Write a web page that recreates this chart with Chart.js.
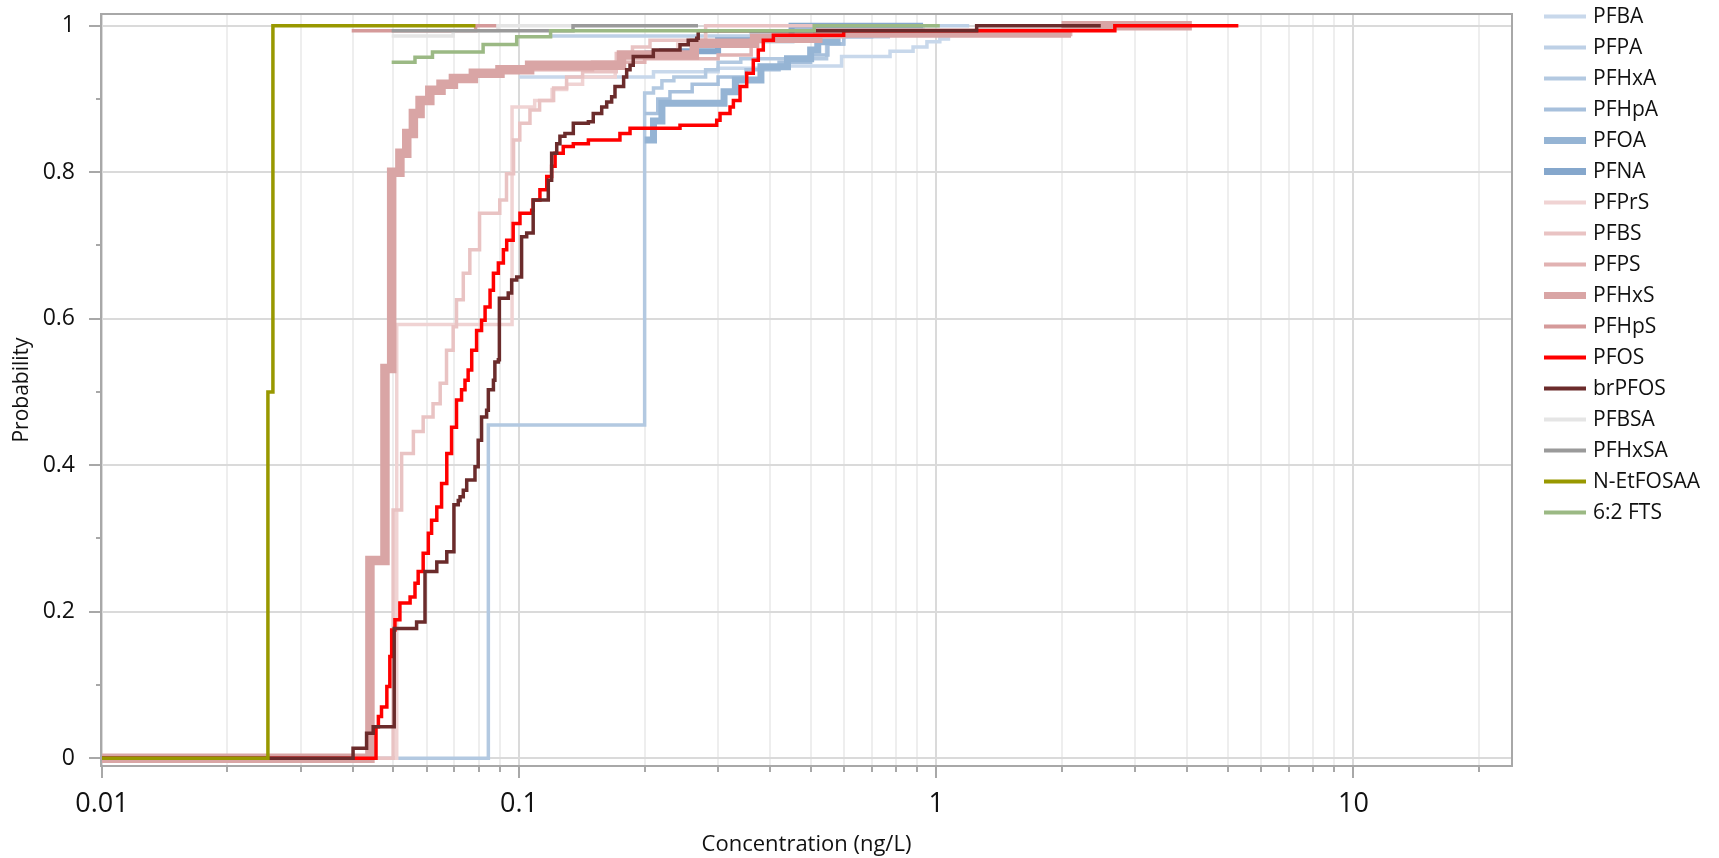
<!DOCTYPE html>
<html>
<head>
<meta charset="utf-8">
<script src="https://cdn.jsdelivr.net/npm/chart.js@4.4.1/dist/chart.umd.min.js"></script>
<style>
  html, body { margin: 0; padding: 0; background: #fff; }
</style>
</head>
<body>
<canvas id="CdfChart" width="1719" height="858"></canvas>
<script>
// series, legend order
const seriesNames = ['PFBA', 'PFPA', 'PFHxA', 'PFHpA', 'PFOA', 'PFNA', 'PFPrS', 'PFBS', 'PFPS',
  'PFHxS', 'PFHpS', 'PFOS', 'brPFOS', 'PFBSA', 'PFHxSA', 'N-EtFOSAA', '6:2 FTS'];

// [concentration (ng/L), cumulative probability]
const pfba = [[0.1, 0.93], [0.21, 0.937], [0.3, 0.942], [0.44, 0.945], [0.593, 0.958], [0.775, 0.965],
  [0.88, 0.971], [0.95, 0.978], [1.02, 0.982], [1.08, 0.982]];
const pfpa = [[0.119, 0.986], [0.36, 0.99], [0.93, 1.0], [1.2, 1.0]];
const pfhxa = [[0.01, 0], [0.0844, 0.455], [0.2, 0.908], [0.21, 0.915], [0.22, 0.925], [0.235, 0.93],
  [0.28, 0.94], [0.3, 0.95], [0.34, 0.955], [0.546, 0.975], [0.6, 0.985], [0.775, 0.985]];
const pfhpa = [[0.2, 0.88], [0.215, 0.9], [0.23, 0.91], [0.26, 0.92], [0.3, 0.93], [0.35, 0.94],
  [0.42, 0.95], [0.5, 0.96], [0.55, 0.975], [0.6, 0.985], [0.7, 0.99]];
const pfoa = [[0.2, 0.844], [0.21, 0.87], [0.22, 0.894], [0.31, 0.91], [0.33, 0.926], [0.38, 0.944],
  [0.44, 0.955], [0.5, 0.967], [0.52, 0.978], [0.59, 0.978]];
const pfna = [[0.2, 0.962], [0.22, 0.965], [0.3, 0.98], [0.45, 1.0], [0.93, 1.0]];
const pfprs = [[0.0458, 0], [0.0509, 0.592], [0.0962, 0.889], [0.109, 0.898], [0.12, 0.913], [0.13, 0.92],
  [0.142, 0.93], [0.17, 0.95], [0.2, 0.96], [0.24, 0.975], [0.28, 0.99]];
const pfbs = [[0.0458, 0], [0.0499, 0.339], [0.0523, 0.416], [0.0558, 0.446], [0.0589, 0.466], [0.0622, 0.484],
  [0.0647, 0.512], [0.067, 0.557], [0.0695, 0.589], [0.0708, 0.626], [0.0735, 0.662], [0.0762, 0.694],
  [0.0804, 0.744], [0.0899, 0.762], [0.0933, 0.798], [0.097, 0.844], [0.1004, 0.867], [0.1062, 0.885],
  [0.112, 0.898], [0.121, 0.915], [0.13, 0.93], [0.142, 0.937], [0.171, 0.962], [0.187, 0.971],
  [0.206, 0.98], [0.28, 1.0], [0.51, 1.0]];
const pfps = [[0.1, 0.94], [0.15, 0.95], [0.2, 0.955], [0.3, 0.96], [0.36, 0.98],
  [0.49, 0.985], [0.6, 0.988], [2.1, 1.0]];
const pfhxs = [[0.01, 0], [0.0439, 0.27], [0.0477, 0.532], [0.0495, 0.8], [0.0518, 0.826], [0.0538, 0.853],
  [0.0558, 0.88], [0.0579, 0.898], [0.0611, 0.912], [0.065, 0.92], [0.0696, 0.928], [0.0777, 0.935],
  [0.09, 0.94], [0.106, 0.946], [0.176, 0.96], [0.263, 0.976], [0.367, 0.983], [0.52, 0.99],
  [2.05, 1.0], [4.1, 1.0]];
const pfhps = [[0.0397, 0.993], [0.0787, 1.0], [0.0888, 1.0]];
const pfos = [[0.01, 0], [0.0454, 0.043], [0.046, 0.057], [0.0468, 0.07], [0.0482, 0.098], [0.049, 0.139],
  [0.0495, 0.175], [0.0504, 0.189], [0.0518, 0.212], [0.0548, 0.22], [0.0563, 0.239], [0.0573, 0.255],
  [0.0589, 0.28], [0.0606, 0.307], [0.0617, 0.325], [0.0635, 0.343], [0.0652, 0.375], [0.0671, 0.416],
  [0.0689, 0.452], [0.0708, 0.489], [0.0728, 0.503], [0.0742, 0.516], [0.0755, 0.53], [0.077, 0.557],
  [0.0791, 0.584], [0.0813, 0.598], [0.0829, 0.616], [0.0852, 0.639], [0.0868, 0.662], [0.0892, 0.676],
  [0.0917, 0.694], [0.0934, 0.707], [0.0968, 0.73], [0.1005, 0.744], [0.1072, 0.748], [0.1081, 0.762],
  [0.1122, 0.776], [0.1165, 0.794], [0.1197, 0.808], [0.122, 0.826], [0.1276, 0.835], [0.1349, 0.839],
  [0.1466, 0.844], [0.1745, 0.853], [0.1845, 0.86], [0.2431, 0.864], [0.2977, 0.871], [0.3032, 0.88],
  [0.3204, 0.889], [0.3264, 0.898], [0.3386, 0.917], [0.3513, 0.935], [0.3643, 0.953], [0.3745, 0.967],
  [0.385, 0.98], [0.407, 0.987], [0.6, 0.993], [2.68, 1.0], [5.3, 1.0]];
const brpfos = [[0.01, 0], [0.04, 0.0135], [0.0431, 0.034], [0.0447, 0.043], [0.0502, 0.177], [0.0568, 0.186],
  [0.0595, 0.255], [0.0635, 0.268], [0.0671, 0.282], [0.0698, 0.346], [0.0715, 0.352], [0.0722, 0.357],
  [0.0735, 0.366], [0.0749, 0.38], [0.0784, 0.398], [0.0798, 0.434], [0.0813, 0.466], [0.0836, 0.475],
  [0.0844, 0.503], [0.0868, 0.516], [0.0875, 0.541], [0.0892, 0.544], [0.0897, 0.628], [0.0942, 0.635],
  [0.096, 0.653], [0.0987, 0.657], [0.1014, 0.712], [0.1043, 0.717], [0.1081, 0.762], [0.1175, 0.789],
  [0.1197, 0.826], [0.1231, 0.839], [0.1253, 0.849], [0.1288, 0.853], [0.1349, 0.867], [0.1466, 0.869],
  [0.1506, 0.88], [0.1578, 0.889], [0.1622, 0.896], [0.1667, 0.903], [0.1698, 0.917], [0.1781, 0.93],
  [0.1811, 0.94], [0.1845, 0.946], [0.1878, 0.958], [0.2098, 0.967], [0.2431, 0.974], [0.2544, 0.98],
  [0.2666, 0.983], [0.2688, 0.993], [1.25, 1.0], [2.48, 1.0]];
const pfbsa = [[0.0495, 0.986], [0.0695, 0.993], [0.089, 1.0], [0.135, 1.0]];
const pfhxsa = [[0.0495, 0.993], [0.1347, 1.0], [0.2685, 1.0]];
const netfosaa = [[0.01, 0], [0.025, 0.5], [0.0257, 1.0], [0.0786, 1.0]];
const fts62 = [[0.0495, 0.95], [0.0563, 0.957], [0.062, 0.964], [0.082, 0.9745], [0.0987, 0.985],
  [0.119, 0.993], [0.51, 1.0], [1.02, 1.0]];

const seriesData = [pfba, pfpa, pfhxa, pfhpa, pfoa, pfna, pfprs, pfbs, pfps,
  pfhxs, pfhps, pfos, brpfos, pfbsa, pfhxsa, netfosaa, fts62];

const seriesColors = ['#c8d8eb', '#bdd0e6', '#b3c9e1', '#a7c0dc', '#95b4d4', '#85a7cc', '#f0d3d3', '#e9c3c3',
  '#e1b2b2', '#d9a5a5', '#d59a9a', '#ff0000', '#6b2b2b', '#e5e5e5', '#9a9a9a', '#989800', '#9bb984'];
const lineWidths = [3.5, 3.5, 3.5, 3.5, 7, 6, 3.5, 3.5, 3.5, 9.5, 3.5, 3.5, 3.5, 3.5, 3.5, 3.5, 3.5];
const legendWidths = [4, 4, 4, 4, 7, 7, 4, 4, 4, 7, 4, 4, 4, 4, 4, 4, 4];

// axes
const xTickValues = [0.01, 0.02, 0.03, 0.04, 0.05, 0.06, 0.07, 0.08, 0.09,
  0.1, 0.2, 0.3, 0.4, 0.5, 0.6, 0.7, 0.8, 0.9,
  1, 2, 3, 4, 5, 6, 7, 8, 9, 10, 20];
const xMajorValues = [0.01, 0.1, 1, 10];
const xMajorLabels = ['0.01', '0.1', '1', '10'];
const yTickValues = [0, 0.1, 0.2, 0.3, 0.4, 0.5, 0.6, 0.7, 0.8, 0.9, 1];
const yMajorValues = [0, 0.2, 0.4, 0.6, 0.8, 1];
const yMajorLabels = ['0', '0.2', '0.4', '0.6', '0.8', '1'];

const FONT = "'Open Sans', 'Noto Sans', sans-serif";

function isMajor(list, v) {
  return list.some(m => Math.abs(m - v) < 1e-9);
}

// frame, tick marks and legend
const decorPlugin = {
  id: 'decor',
  afterDatasetsDraw(chart) {
    const c = chart.ctx;
    const area = chart.chartArea;
    const xs = chart.scales.x, ys = chart.scales.y;
    c.save();
    c.strokeStyle = '#a8a8a8';
    c.lineWidth = 2;
    c.strokeRect(area.left, area.top, area.right - area.left, area.bottom - area.top);
    c.beginPath();
    xTickValues.forEach(v => {
      const px = Math.round(xs.getPixelForValue(v));
      const len = isMajor(xMajorValues, v) ? 12 : 6;
      c.moveTo(px, area.bottom);
      c.lineTo(px, area.bottom + len);
    });
    yTickValues.forEach(v => {
      const py = Math.round(ys.getPixelForValue(v));
      const len = isMajor(yMajorValues, v) ? 12 : 5;
      c.moveTo(area.left - len, py);
      c.lineTo(area.left, py);
    });
    c.stroke();
    c.restore();
  },
  afterDraw(chart) {
    const c = chart.ctx;
    c.save();
    c.font = '21px ' + FONT;
    c.textBaseline = 'middle';
    c.fillStyle = '#111';
    seriesNames.forEach((name, i) => {
      const y = 16.5 + 31 * i;
      c.strokeStyle = seriesColors[i];
      c.lineWidth = legendWidths[i];
      c.beginPath();
      c.moveTo(1544, y);
      c.lineTo(1586, y);
      c.stroke();
      c.fillText(name, 1593, y + 1);
    });
    c.restore();
  }
};

window.onload = function() {
  const ctx = document.getElementById('CdfChart').getContext('2d');

  const datasets = seriesNames.map((name, i) => ({
    label: name,
    data: seriesData[i].map(p => ({ x: p[0], y: p[1] })),
    borderColor: seriesColors[i],
    backgroundColor: seriesColors[i],
    borderWidth: lineWidths[i],
    stepped: true,
    pointRadius: 0,
    fill: false,
    order: -i
  }));

  const config = {
    type: 'line',
    data: { datasets: datasets },
    options: {
      responsive: false,
      animation: false,
      devicePixelRatio: 1,
      layout: { padding: { left: 0, top: 14, right: 207, bottom: 0 } },
      plugins: {
        legend: { display: false },
        tooltip: { enabled: false }
      },
      scales: {
        x: {
          type: 'logarithmic',
          min: 0.00995,
          max: 24,
          afterBuildTicks: axis => {
            axis.ticks = xTickValues.map(v => ({ value: v, major: isMajor(xMajorValues, v) }));
          },
          afterFit: axis => {
            axis.height = 92;
            axis.paddingLeft = 0; axis.paddingRight = 0;
            axis.paddingTop = 0; axis.paddingBottom = 0;
          },
          ticks: {
            autoSkip: false,
            maxRotation: 0,
            padding: 22,
            color: '#111',
            font: { family: FONT, size: 27 },
            callback: v => {
              const k = xMajorValues.findIndex(m => Math.abs(m - v) < 1e-9);
              return k >= 0 ? xMajorLabels[k] : '';
            }
          },
          grid: {
            drawTicks: false,
            lineWidth: 2,
            color: c => isMajor(xMajorValues, c.tick.value) ? '#dadada' : '#eeeeee'
          },
          border: { display: false },
          title: {
            display: true,
            text: 'Concentration (ng/L)',
            color: '#111',
            font: { family: FONT, size: 22 },
            padding: { top: 0, bottom: 0 }
          }
        },
        y: {
          type: 'linear',
          min: -0.0106,
          max: 1.016,
          afterBuildTicks: axis => {
            axis.ticks = yTickValues.map(v => ({ value: v }));
            axis.min = -0.0106;
            axis.max = 1.016;
          },
          afterFit: axis => {
            axis.width = 101;
            axis.paddingLeft = 0; axis.paddingRight = 0;
            axis.paddingTop = 0; axis.paddingBottom = 0;
          },
          ticks: {
            autoSkip: false,
            padding: 26,
            color: '#111',
            font: { family: FONT, size: 23 },
            callback: v => {
              const k = yMajorValues.findIndex(m => Math.abs(m - v) < 1e-9);
              return k >= 0 ? yMajorLabels[k] : '';
            }
          },
          grid: {
            drawTicks: false,
            lineWidth: 2,
            color: c => isMajor(yMajorValues, c.tick.value) ? '#dadada' : 'rgba(0,0,0,0)'
          },
          border: { display: false },
          title: {
            display: true,
            text: 'Probability',
            color: '#111',
            font: { family: FONT, size: 21 },
            padding: { top: 9, bottom: 0 }
          }
        }
      }
    },
    plugins: [decorPlugin]
  };

  const cdfChart = new Chart(ctx, config);
};
</script>
</body>
</html>
